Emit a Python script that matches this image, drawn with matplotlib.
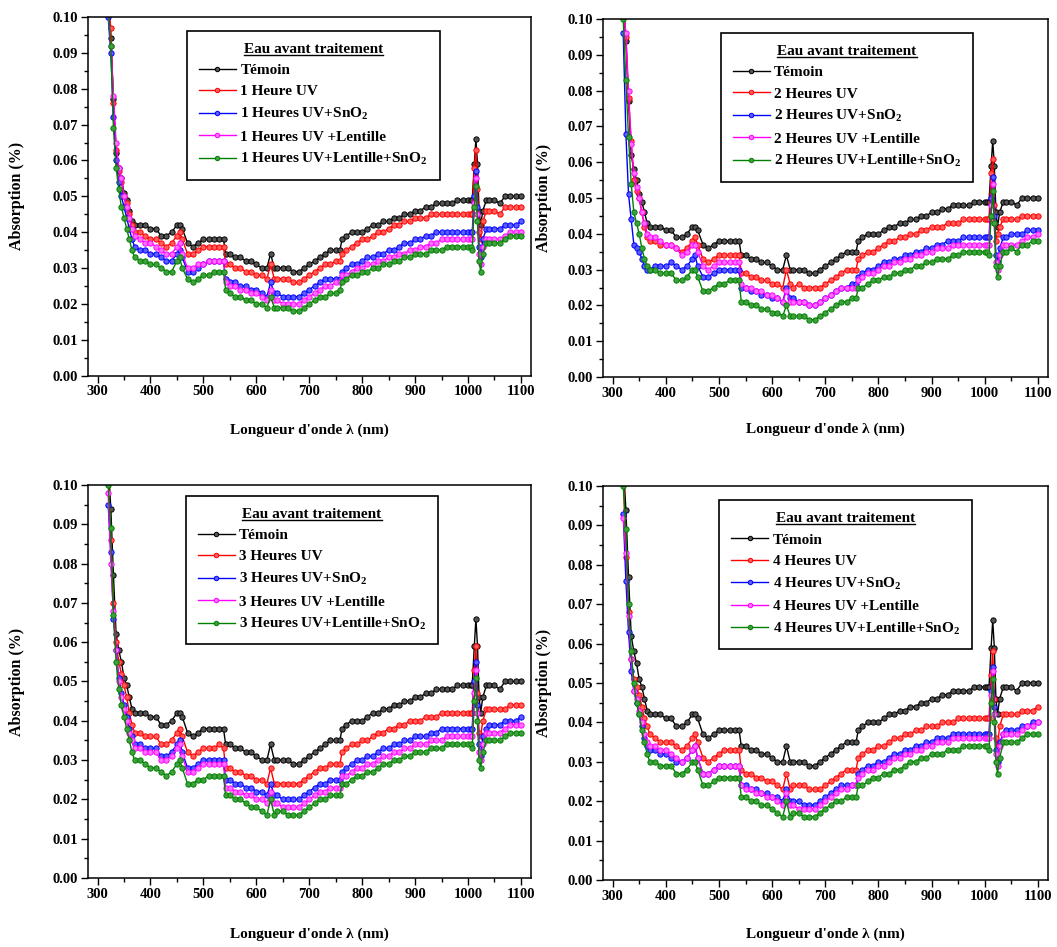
import matplotlib
matplotlib.use('Agg')
import matplotlib.pyplot as plt
import numpy as np
from matplotlib import rc
from matplotlib.lines import Line2D
from matplotlib.ticker import MultipleLocator, FormatStrFormatter

rc('mathtext', default='regular')
plt.rcParams['font.family'] = 'Liberation Serif'

# wavelength grid (nm)
wl = [320, 325, 330, 335, 340, 345, 350, 355, 360, 365, 370,
      380, 390, 400, 410, 420, 430, 440, 450, 455, 460,
      470, 480, 490, 500, 510, 520, 530, 538, 542,
      550, 560, 570, 580, 590, 600, 610, 620, 627, 634,
      640, 650, 660, 670, 680, 690, 700, 710, 720, 730, 740, 750, 758, 762,
      770, 780, 790, 800, 810, 820, 830, 840, 850, 860, 870, 880,
      890, 900, 910, 920, 930, 940, 950, 960, 970, 980, 990, 1000,
      1005, 1008, 1012, 1015, 1018, 1021, 1024, 1028, 1035,
      1040, 1050, 1060, 1070, 1080, 1090, 1100]

# absorption values in thousandths
temoin = [106, 94, 77, 62, 58, 55, 51, 49, 46, 43, 42,
          42, 42, 41, 41, 39, 39, 40, 42, 42, 41,
          37, 36, 37, 38, 38, 38, 38, 38, 34,
          34, 33, 33, 32, 32, 31, 30, 30, 34, 30,
          30, 30, 30, 29, 29, 30, 31, 32, 33, 34, 35, 35, 35, 38,
          39, 40, 40, 40, 41, 42, 42, 43, 43, 44, 44, 45,
          45, 46, 46, 47, 47, 48, 48, 48, 48, 49, 49, 49,
          49, 49, 59, 66, 59, 46, 42, 46, 49,
          49, 49, 48, 50, 50, 50, 50]

# 1 heure
uv_1h = [104, 97, 76, 63, 57, 54, 50, 48, 45, 42, 40,
         40, 39, 38, 38, 37, 36, 37, 39, 40, 38,
         34, 34, 35, 36, 36, 36, 36, 36, 31,
         31, 30, 30, 29, 29, 28, 28, 27, 31, 27,
         27, 27, 27, 26, 26, 27, 28, 29, 30, 31, 31, 32, 32, 34,
         35, 36, 37, 38, 38, 39, 40, 40, 41, 42, 42, 43,
         43, 44, 44, 44, 45, 45, 45, 45, 45, 45, 45, 45,
         45, 45, 58, 63, 52, 40, 38, 43, 46,
         46, 46, 45, 47, 47, 47, 47]
sno2_1h = [100, 90, 72, 60, 54, 50, 47, 44, 41, 38, 36,
           35, 35, 34, 34, 33, 32, 32, 34, 35, 33,
           29, 29, 30, 31, 32, 32, 32, 32, 27,
           26, 26, 25, 25, 24, 24, 23, 22, 26, 23,
           23, 22, 22, 22, 22, 23, 24, 25, 26, 27, 27, 27, 27, 29,
           30, 31, 31, 32, 33, 33, 34, 34, 35, 35, 36, 37,
           37, 38, 38, 39, 39, 40, 40, 40, 40, 40, 40, 40,
           40, 40, 50, 57, 47, 36, 33, 38, 41,
           41, 41, 41, 42, 42, 42, 43]
lent_1h = [102, 92, 78, 65, 58, 55, 50, 47, 44, 41, 39,
           38, 37, 37, 36, 35, 34, 34, 36, 37, 34,
           30, 30, 31, 31, 32, 32, 32, 32, 26,
           25, 25, 24, 24, 23, 23, 22, 21, 24, 21,
           21, 20, 20, 20, 20, 21, 22, 23, 24, 25, 25, 26, 26, 28,
           28, 29, 30, 30, 31, 31, 32, 32, 33, 33, 34, 34,
           35, 35, 36, 36, 37, 37, 38, 38, 38, 38, 38, 38,
           38, 38, 48, 55, 45, 34, 31, 36, 38,
           38, 38, 38, 39, 40, 40, 40]
lent_sno2_1h = [104, 92, 69, 58, 52, 47, 44, 41, 38, 35, 33,
                32, 32, 31, 31, 30, 29, 29, 32, 33, 30,
                27, 26, 27, 28, 28, 29, 29, 29, 24,
                23, 22, 22, 21, 21, 20, 20, 19, 22, 19,
                19, 19, 19, 18, 18, 19, 20, 21, 22, 22, 23, 23, 24, 26,
                27, 28, 28, 29, 29, 30, 30, 31, 31, 32, 32, 33,
                33, 34, 34, 34, 35, 35, 35, 36, 36, 36, 36, 36,
                36, 35, 47, 53, 43, 32, 29, 34, 37,
                37, 37, 37, 38, 39, 39, 39]

# 2 heures
uv_2h = [104, 95, 78, 66, 55, 52, 50, 46, 42, 39, 38,
         38, 37, 37, 37, 36, 35, 36, 38, 39, 37,
         33, 32, 33, 34, 34, 34, 34, 34, 29,
         29, 28, 28, 27, 27, 26, 26, 25, 30, 26,
         25, 26, 25, 25, 25, 25, 26, 27, 28, 29, 30, 30, 30, 33,
         34, 35, 35, 36, 37, 38, 38, 39, 39, 40, 40, 41,
         41, 42, 42, 42, 43, 43, 43, 44, 44, 44, 44, 44,
         44, 44, 57, 61, 48, 38, 40, 42, 44,
         44, 44, 44, 45, 45, 45, 45]
sno2_2h = [96, 68, 51, 44, 37, 36, 35, 33, 31, 30, 30,
           31, 31, 31, 32, 31, 30, 31, 33, 34, 31,
           28, 28, 29, 30, 30, 30, 30, 30, 25,
           25, 24, 24, 23, 23, 22, 22, 21, 25, 22,
           22, 21, 21, 20, 20, 21, 22, 23, 24, 25, 25, 26, 26, 28,
           29, 30, 30, 31, 32, 32, 33, 33, 34, 34, 35, 35,
           36, 36, 37, 37, 38, 38, 38, 39, 39, 39, 39, 39,
           39, 39, 50, 56, 45, 34, 32, 36, 39,
           39, 40, 40, 40, 41, 41, 41]
lent_2h = [104, 96, 80, 65, 57, 53, 50, 46, 43, 40, 39,
           39, 38, 37, 37, 36, 34, 35, 37, 37, 35,
           31, 30, 31, 32, 32, 32, 32, 32, 26,
           25, 25, 24, 24, 23, 23, 22, 21, 24, 21,
           21, 21, 21, 20, 20, 21, 22, 23, 24, 25, 25, 25, 25, 27,
           28, 29, 29, 30, 31, 31, 32, 32, 33, 33, 34, 34,
           35, 35, 36, 36, 36, 37, 37, 37, 37, 37, 37, 37,
           37, 37, 48, 54, 43, 32, 30, 34, 37,
           37, 37, 37, 38, 39, 39, 40]
lent_sno2_2h = [100, 83, 67, 54, 46, 43, 40, 36, 33, 31, 30,
                30, 29, 29, 29, 27, 27, 28, 30, 30, 28,
                24, 24, 25, 26, 26, 27, 27, 27, 21,
                21, 20, 20, 19, 19, 18, 18, 17, 20, 17,
                17, 17, 17, 16, 16, 17, 18, 19, 20, 21, 21, 22, 22, 25,
                25, 26, 27, 27, 28, 28, 29, 29, 30, 30, 31, 31,
                32, 32, 33, 33, 33, 34, 34, 35, 35, 35, 35, 35,
                35, 34, 45, 52, 43, 31, 28, 31, 35,
                35, 36, 35, 37, 37, 38, 38]

# 3 heures
uv_3h = [104, 86, 70, 60, 55, 52, 49, 46, 42, 39, 37,
         37, 36, 36, 36, 34, 34, 35, 37, 38, 36,
         32, 31, 32, 33, 33, 33, 34, 33, 28,
         28, 27, 27, 26, 26, 25, 25, 24, 28, 24,
         24, 24, 24, 24, 24, 25, 26, 27, 28, 28, 29, 29, 29, 32,
         33, 34, 34, 35, 35, 36, 37, 37, 38, 38, 39, 39,
         40, 40, 40, 41, 41, 41, 42, 42, 42, 42, 42, 42,
         42, 42, 53, 59, 47, 37, 36, 40, 43,
         43, 43, 43, 43, 44, 44, 44]
sno2_3h = [95, 83, 66, 58, 51, 47, 44, 41, 38, 36, 34,
           34, 33, 33, 33, 31, 31, 32, 34, 35, 32,
           28, 28, 29, 30, 30, 30, 30, 30, 25,
           25, 24, 24, 23, 23, 22, 22, 21, 24, 21,
           21, 20, 20, 20, 20, 21, 22, 23, 24, 24, 25, 25, 25, 27,
           28, 29, 30, 30, 31, 31, 32, 33, 33, 34, 34, 35,
           35, 36, 36, 36, 37, 37, 38, 38, 38, 38, 38, 38,
           38, 38, 50, 55, 44, 34, 31, 36, 38,
           39, 39, 39, 40, 40, 40, 41]
lent_3h = [98, 80, 68, 58, 50, 46, 43, 40, 37, 35, 33,
           33, 32, 32, 32, 30, 30, 31, 33, 34, 31,
           27, 27, 28, 29, 29, 29, 29, 29, 23,
           23, 22, 22, 21, 21, 20, 20, 19, 22, 19,
           19, 18, 18, 18, 18, 19, 20, 21, 22, 22, 23, 23, 23, 26,
           26, 27, 28, 28, 29, 29, 30, 31, 31, 32, 32, 33,
           33, 34, 34, 34, 35, 35, 35, 36, 36, 36, 36, 36,
           36, 36, 47, 53, 42, 32, 30, 34, 37,
           37, 37, 37, 38, 39, 39, 39]
lent_sno2_3h = [100, 89, 67, 55, 48, 44, 41, 38, 35, 32, 30,
                30, 29, 28, 28, 27, 26, 27, 29, 30, 28,
                24, 24, 25, 25, 26, 26, 26, 26, 21,
                21, 20, 20, 19, 18, 18, 17, 16, 20, 16,
                17, 17, 16, 16, 16, 17, 18, 19, 20, 20, 21, 21, 21, 24,
                24, 25, 26, 26, 27, 27, 28, 29, 29, 30, 30, 31,
                31, 32, 32, 32, 33, 33, 33, 34, 34, 34, 34, 34,
                34, 33, 45, 51, 40, 30, 28, 32, 35,
                35, 35, 35, 36, 37, 37, 37]

# 4 heures
uv_4h = [104, 82, 68, 56, 51, 49, 47, 44, 41, 39, 37,
         36, 35, 35, 35, 34, 33, 34, 36, 37, 35,
         31, 30, 31, 32, 33, 33, 33, 33, 28,
         27, 27, 26, 26, 25, 25, 24, 23, 27, 23,
         24, 24, 24, 23, 23, 23, 24, 25, 26, 27, 28, 28, 28, 31,
         32, 33, 33, 34, 34, 35, 36, 36, 37, 37, 38, 38,
         39, 39, 39, 40, 40, 40, 41, 41, 41, 41, 41, 41,
         41, 41, 52, 58, 46, 36, 34, 39, 42,
         42, 42, 42, 43, 43, 43, 44]
sno2_4h = [93, 76, 63, 53, 48, 45, 42, 39, 36, 34, 33,
           33, 32, 32, 31, 30, 30, 31, 33, 34, 31,
           27, 27, 28, 29, 29, 29, 29, 29, 24,
           24, 23, 23, 22, 22, 21, 21, 20, 23, 20,
           20, 20, 19, 19, 19, 20, 21, 22, 23, 24, 24, 24, 24, 27,
           28, 29, 29, 30, 30, 31, 32, 32, 33, 33, 34, 34,
           35, 35, 36, 36, 36, 37, 37, 37, 37, 37, 37, 37,
           37, 37, 48, 54, 44, 33, 30, 35, 37,
           38, 38, 38, 39, 39, 40, 40]
lent_4h = [92, 83, 67, 56, 48, 46, 43, 40, 37, 35, 34,
           34, 33, 33, 32, 31, 30, 31, 33, 34, 31,
           27, 27, 28, 29, 29, 29, 29, 29, 24,
           23, 23, 22, 22, 21, 21, 20, 19, 22, 19,
           19, 18, 18, 18, 18, 19, 20, 21, 22, 23, 23, 24, 24, 26,
           27, 28, 28, 29, 29, 30, 31, 31, 32, 32, 33, 33,
           34, 34, 35, 35, 35, 36, 36, 36, 36, 36, 36, 36,
           36, 36, 47, 53, 42, 32, 29, 34, 37,
           37, 37, 37, 38, 39, 39, 40]
lent_sno2_4h = [100, 89, 70, 58, 50, 45, 42, 38, 35, 32, 30,
                30, 29, 29, 29, 27, 27, 28, 30, 30, 28,
                24, 24, 25, 26, 26, 26, 26, 26, 21,
                21, 20, 20, 19, 19, 18, 17, 16, 20, 16,
                17, 17, 16, 16, 16, 17, 18, 19, 20, 20, 21, 21, 21, 24,
                24, 25, 26, 26, 27, 27, 28, 28, 29, 30, 30, 31,
                31, 32, 32, 32, 33, 33, 33, 34, 34, 34, 34, 34,
                34, 33, 45, 51, 40, 30, 27, 31, 35,
                35, 35, 35, 36, 37, 37, 37]

panels = [
    ('1', 'Heure', [uv_1h, sno2_1h, lent_1h, lent_sno2_1h]),
    ('2', 'Heures', [uv_2h, sno2_2h, lent_2h, lent_sno2_2h]),
    ('3', 'Heures', [uv_3h, sno2_3h, lent_3h, lent_sno2_3h]),
    ('4', 'Heures', [uv_4h, sno2_4h, lent_4h, lent_sno2_4h]),
]

line_colors = ['#000000', '#ff0000', '#0000ff', '#ff00ff', '#008000']
face_colors = ['#555555', '#ff5c5c', '#5c5cff', '#ff70ff', '#40a040']

# axes rectangles in figure fraction
rects = [(0.0833, 0.6033, 0.419, 0.3788),
         (0.5705, 0.6019, 0.421, 0.3780),
         (0.0833, 0.0729, 0.419, 0.4150),
         (0.5705, 0.0708, 0.421, 0.4160)]
legend_anchor = [(0.223, 0.962), (0.2645, 0.962), (0.2205, 0.973), (0.261, 0.964)]
ylabel_x = [-0.143, -0.115, -0.143, -0.115]
xlabel_y = [-0.132, -0.128, -0.125, -0.122]

fig = plt.figure(figsize=(10.57, 9.47), dpi=100)
legends = []
for i, (num, heure, series) in enumerate(panels):
    ax = fig.add_axes(rects[i])
    labels = ['Témoin',
              f'{num} {heure} UV',
              f'{num} Heures UV+SnO$_2$',
              f'{num} Heures UV +Lentille',
              f'{num} Heures UV+Lentille+SnO$_2$']
    for vals, lab, lc, fc in zip([temoin] + series, labels, line_colors, face_colors):
        ax.plot(wl, np.array(vals) / 1000.0, '-o', color=lc, lw=1.0,
                ms=3.8, mfc=fc, mec=lc, mew=0.7, label=lab)

    ax.set_xlim(282, 1119)
    ax.set_ylim(0, 0.10)
    ax.xaxis.set_major_locator(MultipleLocator(100))
    ax.xaxis.set_minor_locator(MultipleLocator(50))
    ax.yaxis.set_major_locator(MultipleLocator(0.01))
    ax.yaxis.set_minor_locator(MultipleLocator(0.005))
    ax.yaxis.set_major_formatter(FormatStrFormatter('%.2f'))
    ax.tick_params(which='both', direction='out', top=False, right=False,
                   labelsize=10.5, width=1.0)
    ax.tick_params(which='major', length=5, pad=2)
    ax.tick_params(which='minor', length=3)
    for lbl in ax.get_xticklabels() + ax.get_yticklabels():
        lbl.set_fontweight('bold')
    for sp in ax.spines.values():
        sp.set_linewidth(1.1)

    ax.set_ylabel('Absorption (%)', fontsize=11.5, fontweight='bold')
    ax.set_xlabel("Longueur d'onde λ (nm)", fontsize=11, fontweight='bold')
    ax.yaxis.set_label_coords(ylabel_x[i], 0.5)
    ax.xaxis.set_label_coords(0.5, xlabel_y[i])

    leg = ax.legend(loc='upper left', bbox_to_anchor=legend_anchor[i],
                    borderaxespad=0, title='Eau avant traitement',
                    prop={'weight': 'bold', 'size': 11},
                    title_fontproperties={'weight': 'bold', 'size': 11},
                    numpoints=1, handlelength=2.4, handletextpad=0.3,
                    labelspacing=0.5, borderpad=0.8, fancybox=False,
                    framealpha=1, edgecolor='black')
    leg.get_frame().set_linewidth(1.2)
    for h in leg.legend_handles:
        h.set_markersize(3.2)
    legends.append(leg)

# underline the legend titles
fig.canvas.draw()
renderer = fig.canvas.get_renderer()
inv = fig.transFigure.inverted()
for leg in legends:
    bb = leg.get_title().get_window_extent(renderer)
    (x0, y0), (x1, _) = inv.transform([(bb.x0, bb.y0 + 1), (bb.x1, bb.y0)])
    fig.add_artist(Line2D([x0, x1], [y0, y0], color='black', lw=1.0,
                          transform=fig.transFigure))

fig.savefig('out.png', dpi=100)
